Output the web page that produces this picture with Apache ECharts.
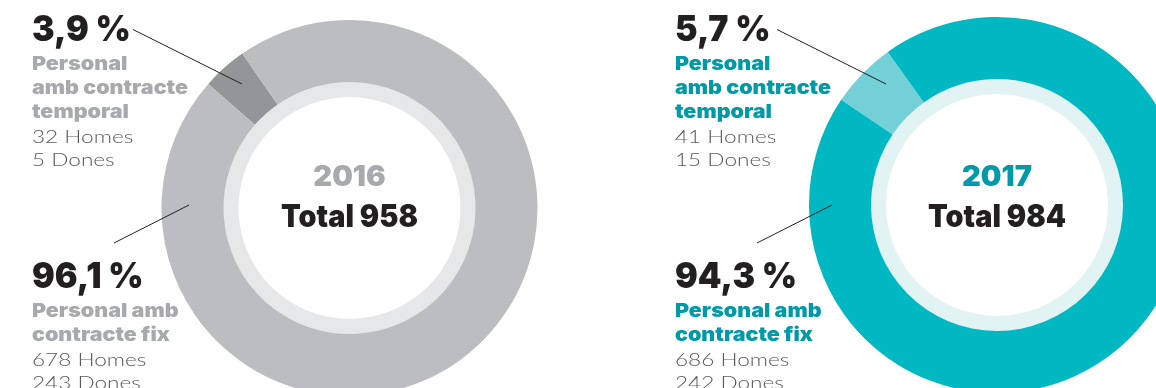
<!DOCTYPE html>
<html>
<head>
<meta charset="utf-8">
<script src="https://cdn.jsdelivr.net/npm/echarts@6/dist/echarts.min.js"></script>
<style>
  html, body { margin: 0; padding: 0; background: #ffffff; }
  #chart { width: 1156px; height: 388px; }
</style>
</head>
<body>
<div id="chart"></div>
<script>
// Staff by contract type, two years
const years = ['2016', '2017'];
const categories = ['Personal amb contracte temporal', 'Personal amb contracte fix'];
const men = [[32, 678], [41, 686]];       // Homes: [temporal, fix]
const women = [[5, 243], [15, 242]];      // Dones: [temporal, fix]
const percentLabels = [['3,9 %', '96,1 %'], ['5,7 %', '94,3 %']];
const totals = [958, 984];

// Layout and palette per year
const centers = [[349.5, 208], [997, 205]];
const startAngles = [138.7, 146];
const palettes = [
  { main: '#bcbdc0', small: '#939598', band: '#e6e7e8', text: '#a7a9ac' },
  { main: '#00b8c2', small: '#74d0d7', band: '#e2f3f4', text: '#0099a7' }
];
const textX = [32, 675];
const lines = [
  [[133, 29.5, 242, 84], [114, 243, 189, 205]],
  [[777, 29.5, 886, 84], [757, 243, 832, 205]]
];

const dark = '#231f20';
const grey = '#58595b';
const heavyFont = '"Inter", "Lato", sans-serif';
const lightFont = '"Lato", "Open Sans", sans-serif';

const series = [];
const graphic = [];

function addText(x, y, str, font, fill, align, sx) {
  graphic.push({
    type: 'text', x: x, y: y, z: 100, silent: true,
    scaleX: sx || 1,
    style: { text: str, font: font, fill: fill, align: align, verticalAlign: 'middle' }
  });
}

years.forEach(function (year, i) {
  const p = palettes[i];
  const values = men[i].map(function (m, k) { return m + women[i][k]; });

  // inner pale band
  series.push({
    type: 'pie', silent: true, animation: false,
    center: centers[i], radius: [111, 126.5],
    label: { show: false }, labelLine: { show: false },
    data: [{ value: 1, itemStyle: { color: p.band } }]
  });

  // contract split ring
  series.push({
    type: 'pie', silent: true, animation: false,
    center: centers[i], radius: [126, 188],
    startAngle: startAngles[i], clockwise: true,
    label: { show: false }, labelLine: { show: false },
    data: categories.map(function (c, k) {
      return { name: c, value: values[k], itemStyle: { color: k === 0 ? p.small : p.main } };
    })
  });

  // centre text
  addText(centers[i][0], 178, year, '900 28px ' + heavyFont, p.text, 'center', 1.04);
  addText(centers[i][0], 218, 'Total ' + totals[i], '900 31px ' + heavyFont, dark, 'center', 0.93);

  // annotation blocks
  const blocks = [
    { y: 30, title: ['Personal', 'amb contracte', 'temporal'], k: 0 },
    { y: 277, title: ['Personal amb', 'contracte fix'], k: 1 }
  ];
  blocks.forEach(function (b) {
    const k = b.k;
    addText(textX[i], b.y, percentLabels[i][k], '900 36px ' + heavyFont, dark, 'left', 0.94);
    let y = b.y + 34;
    b.title.forEach(function (t) {
      addText(textX[i], y, t, '900 19px ' + heavyFont, p.text, 'left', 1.13);
      y += 24;
    });
    y += 1.5;
    addText(textX[i], y, men[i][k] + ' Homes', '300 17px ' + lightFont, grey, 'left', 1.33);
    addText(textX[i], y + 23.5, women[i][k] + ' Dones', '300 17px ' + lightFont, grey, 'left', 1.33);
  });

  // leader lines
  lines[i].forEach(function (l) {
    graphic.push({
      type: 'line', silent: true, z: 100,
      shape: { x1: l[0], y1: l[1], x2: l[2], y2: l[3] },
      style: { stroke: dark, lineWidth: 1 }
    });
  });
});

const chart = echarts.init(document.getElementById('chart'), null, { renderer: 'canvas' });
chart.setOption({
  animation: false,
  backgroundColor: '#ffffff',
  series: series,
  graphic: graphic
});
</script>
</body>
</html>
